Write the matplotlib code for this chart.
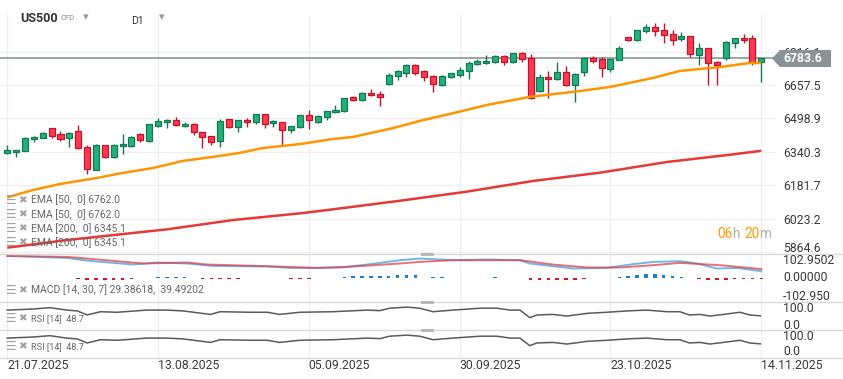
import matplotlib
matplotlib.use("Agg")
import matplotlib.pyplot as plt
import numpy as np
from matplotlib.patches import Polygon
from matplotlib.lines import Line2D

plt.rcParams['font.family'] = ['Roboto', 'DejaVu Sans']

W, H = 843, 379

# daily candles, 21.07.2025 .. 14.11.2025
opens = [6333, 6338, 6342, 6399, 6404, 6452, 6423, 6404, 6437, 6361,
         6252, 6371, 6317, 6366, 6366, 6423, 6390, 6464, 6480, 6490,
         6461, 6471, 6433, 6414, 6390, 6494, 6456, 6491, 6480, 6518,
         6475, 6480, 6442, 6456, 6513, 6480, 6504, 6528, 6532, 6599,
         6585, 6620, 6613, 6661, 6699, 6713, 6754, 6724, 6700, 6658,
         6694, 6703, 6722, 6756, 6760, 6765, 6794, 6765, 6808, 6784,
         6627, 6694, 6684, 6718, 6656, 6718, 6784, 6779, 6732, 6775,
         6884, 6870, 6912, 6931, 6917, 6898, 6874, 6889, 6798, 6832,
         6765, 6784, 6855, 6879, 6879, 6765]
highs = [6371, 6347, 6409, 6415, 6433, 6455, 6437, 6433, 6466, 6371,
         6376, 6373, 6376, 6423, 6415, 6428, 6474, 6499, 6494, 6504,
         6480, 6475, 6435, 6416, 6494, 6497, 6492, 6499, 6521, 6521,
         6491, 6483, 6464, 6516, 6537, 6513, 6535, 6561, 6597, 6604,
         6623, 6637, 6627, 6715, 6727, 6759, 6759, 6729, 6703, 6703,
         6716, 6741, 6770, 6779, 6798, 6798, 6798, 6811, 6813, 6803,
         6708, 6722, 6765, 6746, 6713, 6789, 6794, 6789, 6782, 6841,
         6887, 6920, 6946, 6950, 6950, 6917, 6908, 6892, 6855, 6835,
         6770, 6865, 6882, 6898, 6893, 6786]
lows = [6330, 6317, 6342, 6388, 6404, 6407, 6393, 6365, 6354, 6236,
        6252, 6312, 6312, 6331, 6362, 6388, 6388, 6460, 6455, 6461,
        6456, 6418, 6360, 6371, 6365, 6453, 6433, 6460, 6471, 6455,
        6460, 6369, 6428, 6453, 6450, 6477, 6490, 6525, 6530, 6580,
        6582, 6606, 6556, 6659, 6680, 6697, 6703, 6678, 6626, 6654,
        6691, 6694, 6684, 6751, 6756, 6762, 6751, 6760, 6765, 6590,
        6623, 6594, 6680, 6651, 6575, 6699, 6760, 6694, 6718, 6775,
        6867, 6867, 6903, 6889, 6855, 6846, 6865, 6789, 6751, 6656,
        6656, 6775, 6832, 6855, 6751, 6673]
closes = [6347, 6347, 6404, 6409, 6428, 6417, 6399, 6428, 6360, 6257,
          6371, 6317, 6371, 6376, 6412, 6395, 6471, 6485, 6490, 6466,
          6471, 6433, 6409, 6385, 6485, 6456, 6490, 6480, 6518, 6471,
          6485, 6442, 6461, 6513, 6490, 6509, 6532, 6537, 6594, 6585,
          6620, 6608, 6602, 6703, 6722, 6754, 6713, 6694, 6661, 6700,
          6713, 6727, 6760, 6770, 6770, 6794, 6765, 6808, 6779, 6594,
          6694, 6684, 6718, 6656, 6708, 6784, 6770, 6737, 6779, 6832,
          6870, 6917, 6931, 6912, 6893, 6870, 6889, 6803, 6832, 6760,
          6751, 6860, 6879, 6870, 6765, 6783.6]
last_price = 6783.6

# moving averages, sampled along the lines (x = candle index)
ema50_x = [0, 2.9, 5.9, 10.1, 13.0, 16.4, 19.8, 23.2, 26.2, 28.8, 33.0, 36.7, 39.0,
           43.5, 46.5, 49.9, 54.1, 58.9, 64.6, 67.9, 72.8, 75.8, 80.4, 83.7, 85]
ema50 = [6124, 6159, 6187, 6216, 6240, 6263, 6297, 6316, 6335, 6358, 6377, 6401, 6411,
         6453, 6487, 6520, 6563, 6601, 6629, 6648, 6691, 6724, 6743, 6762, 6762.0]
ema200_x = [0, 6.7, 18.0, 25.4, 33.0, 36.7, 44.3, 51.8, 59.3, 66.8, 74.4, 81.8, 85]
ema200 = [5885, 5921, 5972, 6016, 6048, 6067, 6108, 6151, 6202, 6241, 6292, 6328, 6345.1]

# MACD [14, 30, 7]
macd_x = [0, 6.7, 9.3, 14.2, 16.9, 20.3, 23.2, 29.3, 31.9, 34.9, 37.8, 40.6, 44.3, 46.5,
          50.2, 54.1, 57.8, 58.9, 63.8, 67.6, 70.5, 72.8, 75.8, 77.8, 80.0, 82.3, 85]
macd = [101.5, 92.1, 78.0, 61.1, 70.5, 65.8, 54.5, 51.7, 45.1, 45.1, 48.4, 61.1, 81.3, 89.3,
        81.3, 84.6, 81.3, 65.8, 42.3, 45.1, 62.5, 73.3, 76.6, 65.8, 42.3, 45.1, 29.38618]
signal_x = [0, 6.7, 8.2, 12.4, 15.3, 20.3, 22.5, 29.3, 34.9, 37.8, 44.3, 46.5, 50.2,
            57.8, 61.5, 65.4, 69.1, 72.8, 75.8, 80.4, 85]
signal = [101.5, 96.8, 92.1, 76.6, 65.8, 70.5, 61.1, 53.1, 45.1, 48.4, 65.8, 73.3, 81.3,
          81.3, 61.1, 47.0, 47.0, 57.8, 68.6, 57.8, 39.49202]
hist_x = [0, 1, 8, 9, 10, 11, 12, 13, 14, 15, 17, 18, 19, 20, 22, 23, 24, 25, 26, 27,
          31, 32, 33, 34, 35, 38, 39, 40, 41, 42, 43, 44, 45, 46, 48, 49, 55,
          59, 60, 61, 62, 63, 64, 65, 66, 67, 69, 70, 71, 72, 73, 74, 75, 76,
          77, 78, 79, 80, 81, 82, 83, 84, 85]
hist = [-2, -2, -7, -14, -14, -14, -14, -11, -7, -4, 3, 3, 3, 3, -7, -7, -7, -7, -5, -4,
        -4, -7, -5, -5, -4, 3, 5, 6, 8, 8, 9, 10, 13, 11, 3, 3, 3,
        -14, -14, -14, -14, -14, -11, -7, -4, -3, 3, 8, 13, 17, 17, 11, 6, 3,
        -3, -7, -11, -14, -11, -7, -5, -7, -7]

# RSI [14]
rsi_x = [0, 2.9, 4.8, 6.7, 7.9, 9.0, 10.5, 12.4, 15.7, 18.0, 19.8, 22.9, 24.0, 27.4, 29.3,
         30.7, 33.0, 36.7, 40.6, 42.0, 43.1, 45.1, 46.5, 48.0, 50.2, 53.3, 55.2, 56.7,
         57.8, 58.9, 59.7, 61.5, 63.1, 65.4, 67.6, 69.9, 72.1, 74.4, 75.8, 76.9, 78.1,
         79.2, 80.7, 82.6, 83.7, 84.9]
rsi = [70, 74, 79, 70, 67, 52, 64, 62, 70, 70, 67, 54, 64, 62, 62, 54, 62, 64, 70, 68, 77,
       81, 77, 64, 70, 77, 77, 70, 70, 42, 52, 54, 48, 58, 62, 67, 70, 64, 64, 52, 54, 48,
       54, 62, 52, 48.7]

price_ticks = [5864.6, 6023.2, 6181.7, 6340.3, 6498.9, 6657.5, 6816.1]
date_idx = [0, 17, 34, 51, 68, 85]
date_labels = ['21.07.2025', '13.08.2025', '05.09.2025', '30.09.2025', '23.10.2025', '14.11.2025']

GRID = '#efefef'
TXT = '#3a3a3a'
ICON = '#a0a0a0'


def fx(px):
    return px / W


def fy(py):
    return 1 - py / H


fig = plt.figure(figsize=(W / 100, H / 100), dpi=100)


def panel(top, bottom):
    ax = fig.add_axes([0, fy(bottom), fx(776), (bottom - top) / H])
    for s in ax.spines.values():
        s.set_visible(False)
    ax.set_xlim(-0.82, 86.66)
    ax.set_xticks(date_idx)
    ax.grid(axis='x', color=GRID, lw=0.9)
    ax.set_axisbelow(True)
    ax.tick_params(length=0, labelbottom=False, labelleft=False)
    return ax


# ---- main price panel
ax = panel(15, 253.5)
ax.set_ylim(5857.3, 6989.9)
ax.set_yticks(price_ticks)
ax.yaxis.tick_right()
ax.set_yticklabels([f'{v:.1f}' for v in price_ticks])
ax.tick_params(axis='y', length=0, pad=5, labelsize=8.8, labelcolor=TXT, labelright=True)
ax.get_yticklabels()[0].set_va('baseline')
ax.grid(axis='y', color=GRID, lw=0.9)

o = np.array(opens, float)
c = np.array(closes, float)
x = np.arange(len(c))
up = c >= o
fill = np.where(up, '#22b07d', '#ff3a50')
edge = np.where(up, '#137a4f', '#c2122c')
ax.vlines(x, lows, highs, colors=edge, lw=1, zorder=2)
ax.bar(x, np.maximum(np.abs(c - o), 2), bottom=np.minimum(o, c), width=0.68,
       color=fill, edgecolor=edge, linewidth=0.9, zorder=3)
ax.axhline(last_price, color='#8e969a', lw=1.2, zorder=1.8)

ax.plot(ema200_x, ema200, color='#e53935', lw=1.8, zorder=4, solid_capstyle='butt')
ax.plot(ema50_x, ema50, color='#ff9500', lw=1.8, zorder=4, solid_capstyle='butt')

# ---- MACD panel
am = panel(253.5, 301.5)
am.set_ylim(-112.8, 112.8)
am.set_yticks([])
hc = ['#1f7fcf' if v > 0 else '#e0141f' for v in hist]
am.bar(hist_x, hist, width=0.4, color=hc, zorder=2)
am.plot(macd_x, macd, color='#3d9fe0', lw=1.4, alpha=0.75, zorder=3)
am.plot(signal_x, signal, color='#e0404c', lw=1.4, alpha=0.75, zorder=3)

# ---- RSI panels
rsi_axes = []
for top, bottom in [(301.5, 329.5), (329.5, 357.5)]:
    ar = panel(top, bottom)
    ar.set_ylim(-1.85, 101.85)
    ar.set_yticks([])
    ar.plot(rsi_x, rsi, color='#5a5a5a', lw=1.1, zorder=3)
    rsi_axes.append(ar)

ab = rsi_axes[-1]
ab.set_xticklabels(date_labels)
ab.tick_params(axis='x', labelbottom=True, labelsize=8.8, labelcolor=TXT, pad=1)
for lab in ab.get_xticklabels():
    lab.set_ha('left')

# ---- panel separators and drag handles
for py in [253.5, 301.5, 329.5, 357.5]:
    fig.add_artist(Line2D([0, 1], [fy(py), fy(py)], color='#d9d9d9', lw=1))
for py in [254, 301.5, 329.5]:
    fig.add_artist(Line2D([fx(422), fx(432)], [fy(py), fy(py)], color='#b4b4b4', lw=2))


def ftext(px, py, s, **kw):
    kw.setdefault('va', 'center')
    fig.text(fx(px), fy(py), s, **kw)


# right-hand labels of the indicator panels
for py, s in [(260, '102.9502'), (277.3, '0.00000'), (296.6, '-102.950'),
              (309, '100.0'), (325.5, '0.0'), (337, '100.0'), (351.5, '0.0')]:
    ftext(783, py, s, fontsize=8.8, color=TXT)

# current price tag (drawn over the partly hidden 6816.1 label, as in the source)
tag = Polygon([(fx(772), fy(58.4)), (fx(780), fy(50)), (fx(831), fy(50)),
               (fx(831), fy(67)), (fx(780), fy(67))], closed=True,
              transform=fig.transFigure, facecolor='#8a9296', edgecolor='none', zorder=5)
fig.add_artist(tag)
ftext(783, 58.7, f'{last_price:.1f}', fontsize=8.8, color='white', weight='bold', zorder=6)

# countdown to close
ftext(717, 234, '06', fontsize=9.8, color='#ff9800')
ftext(732, 234, 'h', fontsize=9.8, color='#b0b0b0')
ftext(744, 234, '20', fontsize=9.8, color='#ff9800')
ftext(759.5, 234, 'm', fontsize=9.8, color='#b0b0b0')

# indicator legends
legend_rows = [
    (200, f'EMA [50,  0] {ema50[-1]:.1f}', 7.5),
    (214.3, f'EMA [50,  0] {ema50[-1]:.1f}', 7.5),
    (228.3, f'EMA [200,  0] {ema200[-1]:.1f}', 7.5),
    (242.3, f'EMA [200,  0] {ema200[-1]:.1f}', 7.5),
    (290, f'MACD [14, 30, 7] {macd[-1]:.5f},  {signal[-1]:.5f}', 7.5),
    (318.3, f'RSI [14]  {rsi[-1]:.1f}', 6.6),
    (346.7, f'RSI [14]  {rsi[-1]:.1f}', 6.6),
]
for py, s, fs in legend_rows:
    ftext(6, py, '\u2630', fontsize=8.5, color=ICON, family=['DejaVu Sans'])
    ftext(18.5, py, '\u2716', fontsize=7.5, color=ICON, family=['DejaVu Sans'])
    ftext(31, py, s, fontsize=fs, color='#666666')

# header
ftext(20, 18, 'US500', fontsize=9, weight='bold', color='#333333')
ftext(60, 18.5, 'CFD', fontsize=5.5, color='#888888')
ftext(83, 17, '\u25be', fontsize=8, color='#9a9a9a', family=['DejaVu Sans'])
ftext(131, 21.5, 'D1', fontsize=7.5, color='#333333')
ftext(159, 17, '\u25be', fontsize=8, color='#9a9a9a', family=['DejaVu Sans'])

fig.savefig('out.png', dpi=100)
